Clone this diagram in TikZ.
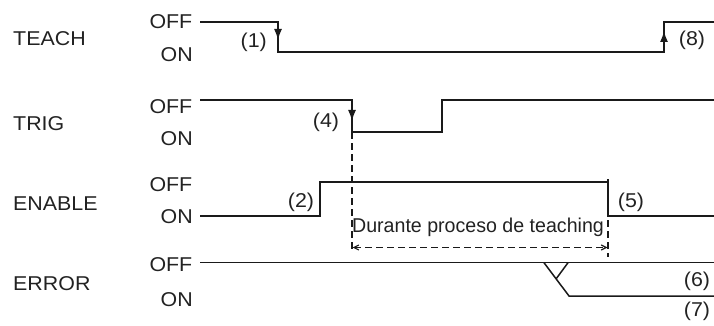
\documentclass[tikz,border=0pt]{standalone}
\usepackage{fontspec}
\setmainfont{Liberation Sans}[FakeStretch=1.07]
\newfontfamily\durfont{Liberation Sans}[FakeStretch=0.98]
\usetikzlibrary{arrows.meta}
\definecolor{ink}{HTML}{1A1A1A}
\definecolor{txt}{HTML}{222222}
\begin{document}
\begin{tikzpicture}[x=1pt,y=-1pt,
  wave/.style={draw=ink,line width=1.5pt,line join=miter},
  dsh/.style={draw=ink,line width=1.2pt,dash pattern=on 7pt off 4pt},
  lbl/.style={inner sep=0pt,text=txt,font=\fontsize{20}{22}\selectfont},
  sig/.style={lbl,anchor=west},
  lvl/.style={lbl,anchor=east},
  num/.style={lbl},
  tip/.style={-{Latex[length=11pt,width=8pt]},ink,line width=1.5pt}]
\useasboundingbox (0,0) rectangle (714,326);
% signal names
\node[sig] (teach) at (13,38.3) {TEACH};
\node[sig] (trig) at (13,123.3) {TRIG};
\node[sig] (enable) at (13,203.3) {ENABLE};
\node[sig] (error) at (13,283.3) {ERROR};
% levels
\node[lvl] (t-off) at (192.5,21.7) {OFF};
\node[lvl] (t-on) at (193,55) {ON};
\node[lvl] (g-off) at (192.5,106.5) {OFF};
\node[lvl] (g-on) at (193,139) {ON};
\node[lvl] (e-off) at (192.5,185) {OFF};
\node[lvl] (e-on) at (193,216.7) {ON};
\node[lvl] (r-off) at (192.5,265) {OFF};
\node[lvl] (r-on) at (193,300) {ON};
% waveforms
\draw[wave] (200,22) -- (278,22) -- (278,52) -- (664,52) -- (664,22) -- (714,22);
\draw[wave] (200,100) -- (352,100) -- (352,132) -- (442,132) -- (442,100) -- (714,100);
\draw[wave] (200,216) -- (320,216) -- (320,182) -- (608,182);
\draw[wave] (608,179) -- (608,216) -- (714,216);
\draw[wave] (200,262.7) -- (714,262.7);
\draw[wave] (544,262.7) -- (569,296) -- (714,296);
\draw[wave] (568,262.7) -- (556,279);
% edge arrows
\coordinate (a1s) at (278,27); \coordinate (a1e) at (278,40);
\coordinate (a4s) at (352,107); \coordinate (a4e) at (352,121);
\coordinate (a8s) at (664,45); \coordinate (a8e) at (664,31);
\draw[tip] (a1s) -- (a1e);
\draw[tip] (a4s) -- (a4e);
\draw[tip] (a8s) -- (a8e);
% dashed span
\coordinate (d1) at (352,132); \coordinate (d2) at (352,250);
\coordinate (d3) at (608,220); \coordinate (d4) at (608,257);
\coordinate (h1) at (352.5,247.5); \coordinate (h2) at (607.5,247.5);
\draw[dsh] (d1) -- (d2);
\draw[dsh] (d3) -- (d4);
\draw[dsh,{Straight Barb[length=5pt,width=5pt]}-{Straight Barb[length=5pt,width=5pt]}] (h1) -- (h2);
\node[lbl,font=\durfont\fontsize{20}{22}\selectfont] (dur) at (478,227) {Durante proceso de teaching};
% numbers
\node[num] (n1) at (253.7,42) {(1)};
\node[num] (n4) at (326,122) {(4)};
\node[num] (n8) at (692,40) {(8)};
\node[num] (n2) at (301,202) {(2)};
\node[num] (n5) at (631,202) {(5)};
\node[num] (n6) at (697,281) {(6)};
\node[num] (n7) at (697,311) {(7)};
\end{tikzpicture}
\end{document}
